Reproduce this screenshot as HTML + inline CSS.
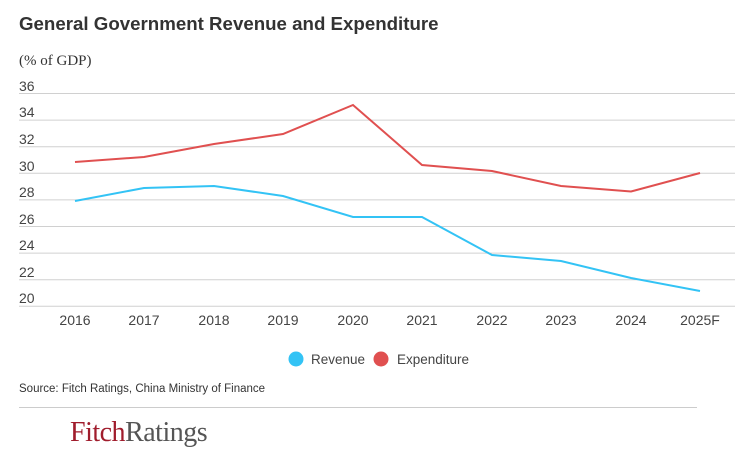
<!DOCTYPE html>
<html><head><meta charset="utf-8"><style>
body{margin:0;background:#fff;width:756px;height:470px;overflow:hidden;font-family:"Liberation Sans",sans-serif;}
</style></head><body>
<svg width="756" height="470" xmlns="http://www.w3.org/2000/svg" font-family="Liberation Sans, sans-serif">
<text x="19" y="30" font-size="18.7" font-weight="bold" fill="#333">General Government Revenue and Expenditure</text>
<text x="19" y="65" font-size="15" fill="#333" font-family="Liberation Serif, serif">(% of GDP)</text>
<g stroke="#d0d0d0" stroke-width="1">
<line x1="19" x2="735" y1="93.5" y2="93.5"/><line x1="19" x2="735" y1="120.1" y2="120.1"/>
<line x1="19" x2="735" y1="146.7" y2="146.7"/><line x1="19" x2="735" y1="173.3" y2="173.3"/>
<line x1="19" x2="735" y1="199.9" y2="199.9"/><line x1="19" x2="735" y1="226.5" y2="226.5"/>
<line x1="19" x2="735" y1="253.1" y2="253.1"/><line x1="19" x2="735" y1="279.7" y2="279.7"/>
<line x1="19" x2="735" y1="306.3" y2="306.3"/>
</g>
<g font-size="14" fill="#444">
<text x="19" y="91">36</text><text x="19" y="117">34</text><text x="19" y="144">32</text>
<text x="19" y="171">30</text><text x="19" y="197">28</text><text x="19" y="224">26</text>
<text x="19" y="250">24</text><text x="19" y="277">22</text><text x="19" y="303">20</text>
</g>
<g font-size="14" fill="#444" text-anchor="middle">
<text x="75" y="325">2016</text><text x="144" y="325">2017</text><text x="214" y="325">2018</text>
<text x="283" y="325">2019</text><text x="353" y="325">2020</text><text x="422" y="325">2021</text>
<text x="492" y="325">2022</text><text x="561" y="325">2023</text><text x="631" y="325">2024</text>
<text x="700" y="325">2025F</text>
</g>
<polyline fill="none" stroke="#e05050" stroke-width="2" points="75,162 144,157 214,144 283,134 353,105 422,165 492,171 561,186 631,191.5 700,173"/>
<polyline fill="none" stroke="#33c3f5" stroke-width="2" points="75,201 144,188 214,186 283,196 353,217 422,217 492,255 561,261 631,278 700,291"/>
<circle cx="296" cy="359" r="7.5" fill="#33c3f5"/>
<text x="311" y="364" font-size="13.5" fill="#444">Revenue</text>
<circle cx="381" cy="359" r="7.5" fill="#e05050"/>
<text x="397" y="364" font-size="13.5" fill="#444">Expenditure</text>
<text x="19" y="392" font-size="11.5" fill="#333">Source: Fitch Ratings, China Ministry of Finance</text>
<line x1="19" x2="697" y1="407.5" y2="407.5" stroke="#ccc" stroke-width="1"/>
<text x="70" y="441" font-size="28" fill="#a01c2c" font-family="Liberation Serif, serif" letter-spacing="-0.5">Fitch<tspan fill="#555">Ratings</tspan></text>
</svg>
</body></html>
